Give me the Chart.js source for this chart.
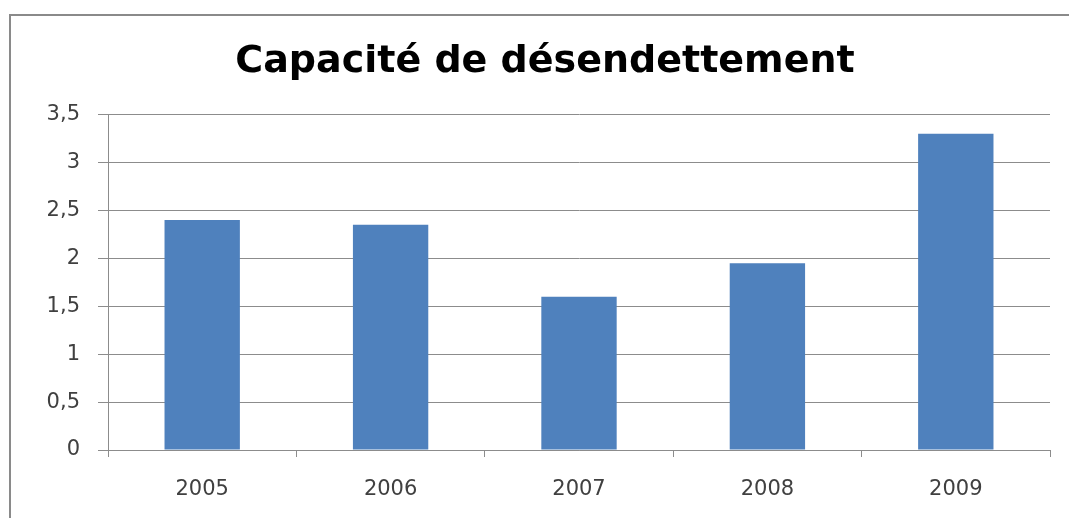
<!DOCTYPE html>
<html>
<head>
<meta charset="utf-8">
<script src="https://cdn.jsdelivr.net/npm/chart.js@4"></script>
<style>
    body { margin: 0; background: #fff; overflow: hidden; }
    #wrap { position: relative; width: 1069px; height: 518px; }
    #frame { position: absolute; left: 9px; top: 14px; width: 1100px; height: 540px; border: 2px solid #8a8a8a; pointer-events: none; }
    canvas { position: absolute; left: 0; top: 0; }
</style>
</head>
<body>
<div id="wrap">
    <div id="frame"></div>
    <canvas id="debtChart" width="1069" height="518"></canvas>
</div>
<script>
const years = ['2005', '2006', '2007', '2008', '2009'];
const capacity = [2.4, 2.35, 1.6, 1.95, 3.3];
const yTicks = [0, 0.5, 1, 1.5, 2, 2.5, 3, 3.5];

const ctx = document.getElementById('debtChart').getContext('2d');
const debtChart = new Chart(ctx, {
    type: 'bar',
    data: {
        labels: years,
        datasets: [{
            label: 'Capacité de désendettement',
            data: capacity,
            backgroundColor: '#4f81bd',
            categoryPercentage: 1,
            barPercentage: 0.4
        }]
    },
    options: {
        responsive: false,
        animation: false,
        // left padding shifts the title centre to match the original
        layout: { padding: { left: 40, right: 19, top: 0, bottom: 0 } },
        plugins: {
            legend: { display: false },
            tooltip: { enabled: false },
            title: {
                display: true,
                text: 'Capacité de désendettement',
                color: '#000',
                font: { family: 'DejaVu Sans', size: 38, weight: 'bold' },
                padding: { top: 39, bottom: 30 }
            }
        },
        scales: {
            x: {
                grid: { offset: true, drawOnChartArea: false, color: '#8c8c8c', tickLength: 7 },
                border: { color: '#8c8c8c' },
                ticks: { color: '#404040', font: { family: 'DejaVu Sans', size: 21 }, padding: 20 },
                afterFit: (scale) => { scale.height = 68; }
            },
            y: {
                min: 0,
                max: 3.5,
                afterBuildTicks: (scale) => { scale.ticks = yTicks.map(v => ({ value: v })); },
                grid: { color: '#8c8c8c', tickLength: 10 },
                border: { color: '#8c8c8c' },
                ticks: {
                    color: '#404040',
                    font: { family: 'DejaVu Sans', size: 21 },
                    padding: 18,
                    callback: (v) => String(v).replace('.', ',')
                },
                afterFit: (scale) => { scale.width = 68; }
            }
        }
    }
});
</script>
</body>
</html>
